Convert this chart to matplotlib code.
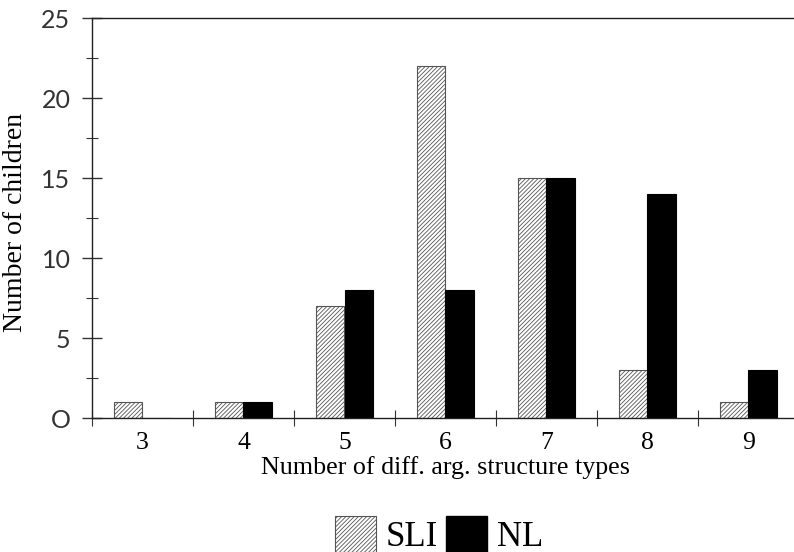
import matplotlib
matplotlib.use("Agg")
import matplotlib.pyplot as plt
from matplotlib.patches import Patch
from matplotlib.ticker import FixedLocator
import numpy as np

categories = [3, 4, 5, 6, 7, 8, 9]
sli = [1, 1, 7, 22, 15, 3, 1]
nl = [0, 1, 8, 8, 15, 14, 3]
yticks = [0, 5, 10, 15, 20, 25]
ytick_labels = ["O", "5", "10", "15", "20", "25"]

plt.rcParams['hatch.linewidth'] = 0.6
plt.rcParams['hatch.color'] = '#555555'

W, H = 794, 552
fig = plt.figure(figsize=(W / 100, H / 100), dpi=100)
ax = fig.add_axes([92 / W, (H - 418) / H, (W - 92) / W, 400 / H])

x = np.array(categories, dtype=float)
bw = 0.28
ax.bar(x - bw / 2, sli, width=bw, facecolor='white', edgecolor='#555555',
       hatch='////////', linewidth=0.8)
ax.bar(x + bw / 2, nl, width=bw, color='black', edgecolor='black', linewidth=0.8)

ax.set_xlim(2.5, 2.5 + (W - 92) / 101)
ax.set_ylim(0, 25)

ax.spines['right'].set_visible(False)
for s in ['left', 'bottom', 'top']:
    ax.spines[s].set_linewidth(1.0)
    ax.spines[s].set_color('#222222')

# y ticks
ax.set_yticks(yticks)
ax.set_yticklabels(ytick_labels, family=['Lato', 'DejaVu Sans'],
                   fontsize=18, color='#333333')
ax.yaxis.set_minor_locator(FixedLocator([2.5, 7.5, 12.5, 17.5, 22.5]))
ax.tick_params(axis='y', which='major', direction='inout', length=15, width=1.0,
               pad=8, color='#333333')
ax.tick_params(axis='y', which='minor', direction='inout', length=9, width=0.8,
               color='#333333')

# x ticks: boundaries as major (no labels), categories as minor labels
ax.xaxis.set_major_locator(FixedLocator(list(np.arange(2.5, 9.6, 1.0))))
ax.xaxis.set_major_formatter(plt.NullFormatter())
ax.xaxis.set_minor_locator(FixedLocator(categories))
ax.set_xticklabels([str(c) for c in categories], minor=True,
                   family='Liberation Serif', fontsize=18.5)
ax.tick_params(axis='x', which='major', direction='inout', length=12, width=0.8,
               color='#333333')
ax.tick_params(axis='x', which='minor', length=0, pad=10)

ax.set_xlabel("Number of diff. arg. structure types", family='Liberation Serif',
              fontsize=18.7)
ax.xaxis.set_label_coords(0.504, -0.095)
ax.set_ylabel("Number of children", family='Liberation Serif', fontsize=20)
ax.yaxis.set_label_coords(-0.091, 0.49)

handles = [Patch(facecolor='white', edgecolor='#555555', hatch='////////', linewidth=0.8),
           Patch(facecolor='black', edgecolor='black')]
fig.legend(handles, ["SLI", "NL"], loc='upper center',
           bbox_to_anchor=(439 / W, (H - 516) / H), ncol=2, frameon=False,
           prop={'family': 'Liberation Serif', 'size': 25},
           handlelength=1.2, handleheight=1.2, handletextpad=0.28,
           columnspacing=0.22, borderpad=0, borderaxespad=0)

fig.savefig("out.png", dpi=100)
